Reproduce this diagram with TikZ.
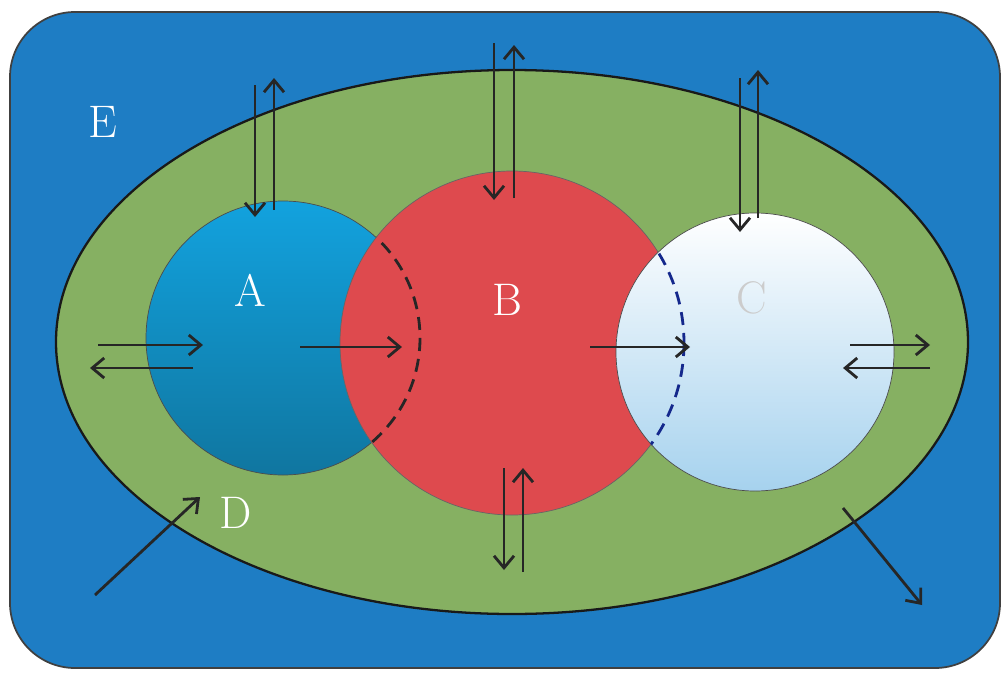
\documentclass[tikz,border=0pt]{standalone}
\usepackage{tikz}
\usetikzlibrary{arrows.meta}
\definecolor{bgblue}{RGB}{30,125,196}
\definecolor{envgreen}{RGB}{134,176,98}
\definecolor{aTop}{RGB}{18,162,222}
\definecolor{aBot}{RGB}{16,118,160}
\definecolor{bRed}{RGB}{222,74,78}
\definecolor{cBot}{RGB}{166,210,238}
\definecolor{navy}{RGB}{20,40,140}

\begin{document}
\begin{tikzpicture}[x=0.02cm,y=-0.02cm,
  arr/.style={-{Straight Barb[length=2.4mm,width=4mm]},line width=1.6pt,draw=black!85},
  lbl/.style={text=white,font=\fontsize{26}{30}\selectfont},
  hidden/.style={line width=1.6pt,dash pattern=on 2.6mm off 1.6mm}]
  \useasboundingbox (0,0) rectangle (1008,673);
  % frame and environment
  \filldraw[fill=bgblue,draw=black!75,line width=1pt,rounded corners=1.3cm] (10,12) rectangle (1000,668);
  \filldraw[fill=envgreen,draw=black!90,line width=1.3pt] (512,342) ellipse [x radius=456,y radius=272];
  % the three circles
  \shadedraw[top color=aTop,bottom color=aBot,draw=black!70] (283,338) circle [radius=137];
  \filldraw[fill=bRed,draw=black!60] (512,343) circle [radius=172];
  \begin{scope}
    \clip (512,343) circle [radius=172];
    \draw[hidden,black!85] (283,338) circle [radius=137];
  \end{scope}
  \shadedraw[top color=white,bottom color=cBot,draw=black!70] (755,352) circle [radius=139];
  \begin{scope}
    \clip (755,352) circle [radius=139];
    \draw[hidden,navy] (512,343) circle [radius=172];
  \end{scope}
  % labels
  \node[lbl] (labE) at (103,122) {E};
  \node[lbl] (labA) at (250,290) {A};
  \node[lbl] (labB) at (507,300) {B};
  \node[lbl,text=gray!40] (labC) at (752,298) {C};
  \node[lbl] (labD) at (236,513) {D};
  % arrows at A
  \draw[arr] (255,85) -- (255,217);
  \draw[arr] (274,210) -- (274,78);
  \draw[arr] (98,345) -- (203,345);
  \draw[arr] (193,368) -- (90,368);
  \draw[arr] (300,347) -- (402,347);
  % arrows at B
  \draw[arr] (494,43) -- (494,200);
  \draw[arr] (514,198) -- (514,45);
  \draw[arr] (590,347) -- (690,347);
  \draw[arr] (504,468) -- (504,570);
  \draw[arr] (523,572) -- (523,468);
  % arrows at C
  \draw[arr] (740,78) -- (740,232);
  \draw[arr] (758,218) -- (758,70);
  \draw[arr] (850,345) -- (930,345);
  \draw[arr] (930,368) -- (843,368);
  % in and out of D
  \draw[arr] (95,595) -- (200,497);
  \draw[arr] (843,508) -- (922,605);
\end{tikzpicture}
\end{document}
